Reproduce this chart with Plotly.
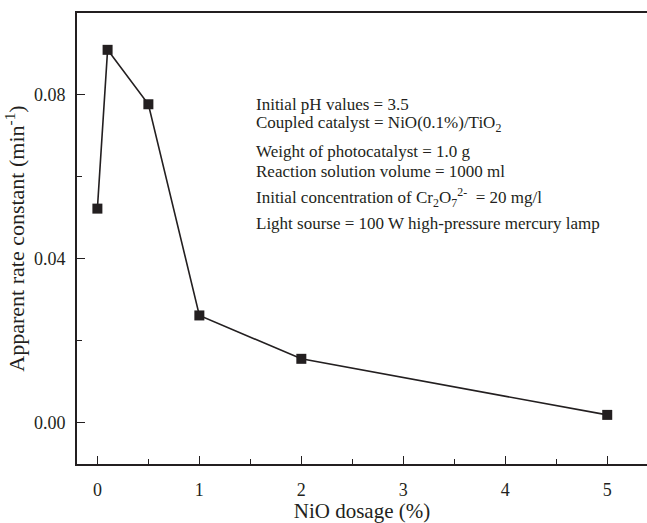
import plotly.graph_objects as go

nio_dosage = [0, 0.1, 0.5, 1, 2, 5]
rate_constant = [0.0522, 0.0910, 0.0777, 0.0261, 0.0155, 0.0018]

x_ticks = [0, 1, 2, 3, 4, 5]
y_ticks = [0.00, 0.04, 0.08]
y_tick_labels = ["0.00", "0.04", "0.08"]

info_lines = [
    "Initial pH values = 3.5",
    "Coupled catalyst = NiO(0.1%)/TiO<sub>2</sub>",
    "Weight of photocatalyst = 1.0 g",
    "Reaction solution volume = 1000 ml",
    "Initial concentration of Cr<sub>2</sub>O<sub>7</sub><sup>2-</sup>  = 20 mg/l",
    "Light sourse = 100 W high-pressure mercury lamp",
]

FONT = "Liberation Serif, Times New Roman, serif"
INK = "#231f20"

fig = go.Figure()
fig.add_trace(go.Scatter(
    x=nio_dosage, y=rate_constant, mode="lines+markers",
    line=dict(color=INK, width=1.6),
    marker=dict(symbol="square", size=10, color=INK),
    showlegend=False,
))

W, H = 647, 523
L, T, B, R = 77, 13, 59, 0
plot_h = H - T - B
line_y_px = [104, 124.5, 151.5, 171.5, 197, 224]
for txt, ypx in zip(info_lines, line_y_px):
    fig.add_annotation(
        x=(254 - L) / (W - L - R), y=1 - (ypx - T) / plot_h,
        xref="paper", yref="paper", xanchor="left", yanchor="middle",
        text=txt, showarrow=False,
        font=dict(family=FONT, size=17, color=INK),
    )

fig.update_layout(
    width=W, height=H,
    margin=dict(l=L, r=R, t=T, b=B, pad=0),
    paper_bgcolor="white", plot_bgcolor="white",
    font=dict(family=FONT, color=INK),
    xaxis=dict(
        range=[-0.2, 5.39], tickvals=x_ticks,
        ticks="inside", ticklen=8, tickwidth=1.3, tickcolor=INK,
        minor=dict(dtick=0.5, ticks="inside", ticklen=5, tickwidth=1.3, tickcolor=INK),
        showline=True, linecolor=INK, linewidth=1.6, mirror=True,
        showgrid=False, zeroline=False,
        tickfont=dict(family=FONT, size=18, color=INK),
        ticklabelstandoff=9,
        title=dict(text="NiO dosage (%)", font=dict(family=FONT, size=21, color=INK), standoff=8),
    ),
    yaxis=dict(
        range=[-0.0102, 0.1], tickvals=y_ticks, ticktext=y_tick_labels,
        ticks="inside", ticklen=8, tickwidth=1.3, tickcolor=INK,
        minor=dict(dtick=0.02, tick0=0, ticks="inside", ticklen=5, tickwidth=1.3, tickcolor=INK),
        showline=True, linecolor=INK, linewidth=1.6,
        showgrid=False, zeroline=False,
        tickfont=dict(family=FONT, size=18, color=INK),
        ticklabelstandoff=6,
        title=dict(text="Apparent rate constant (min<sup>-1</sup>)",
                   font=dict(family=FONT, size=22, color=INK), standoff=3),
    ),
)

fig.write_html("out.html")
